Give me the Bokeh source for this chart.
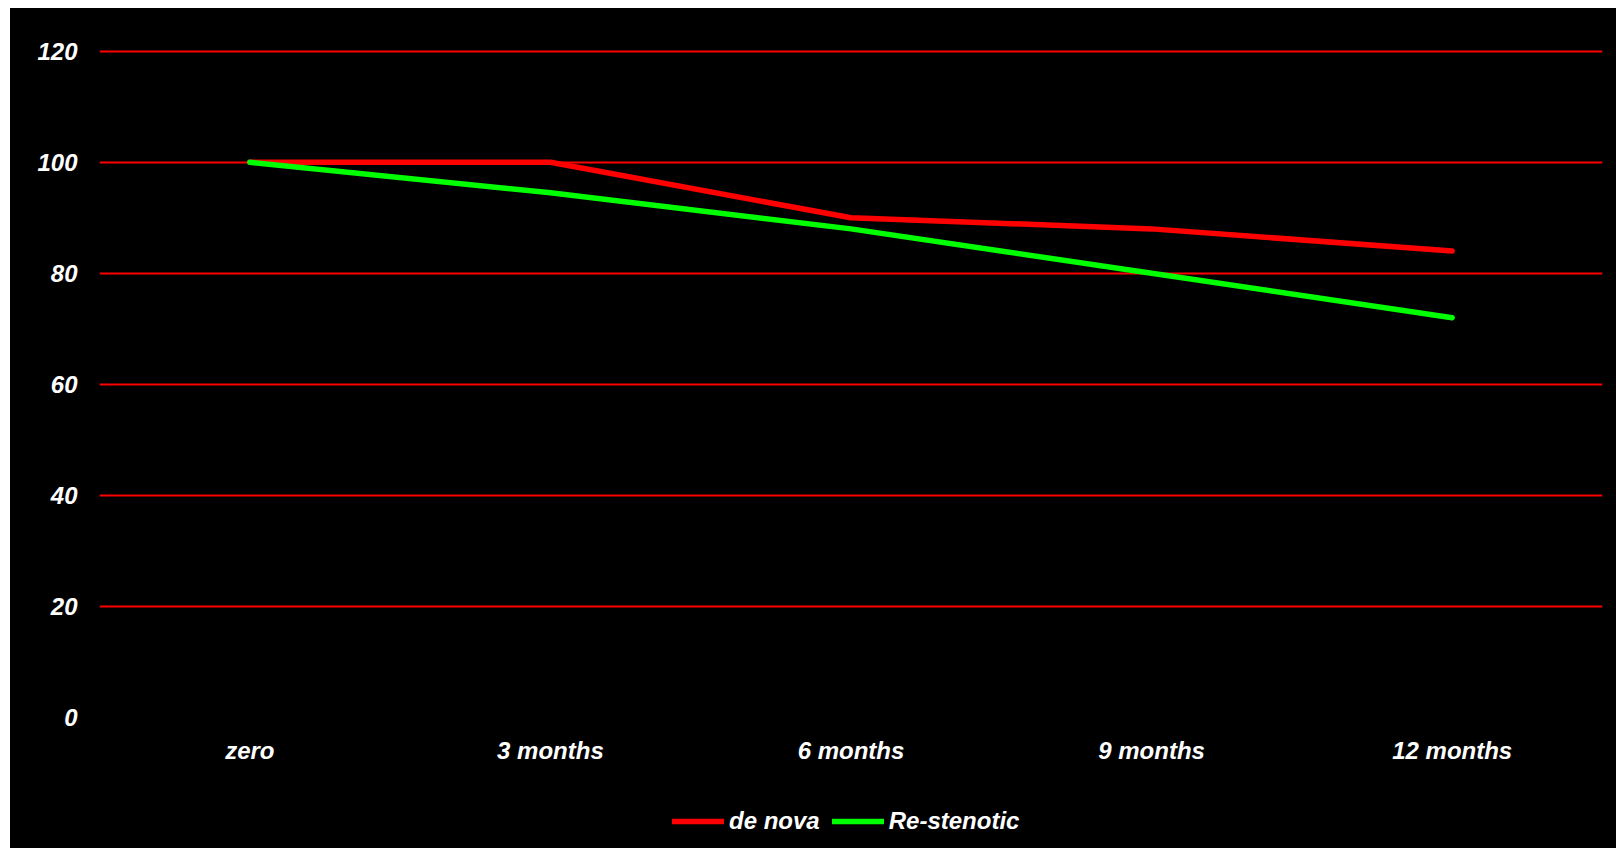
from bokeh.plotting import figure
from bokeh.models import Range1d, FactorRange, Legend, LegendItem, FixedTicker, CategoricalAxis
from bokeh.embed import file_html
from bokeh.resources import INLINE

categories = ["zero", "3 months", "6 months", "9 months", "12 months"]
de_nova = [100, 100, 90, 88, 84]
re_stenotic = [100, 94.5, 88, 80, 72]
y_ticks = [0, 20, 40, 60, 80, 100, 120]
grid_ticks = [20, 40, 60, 80, 100, 120]

FONT = "Liberation Sans"

p = figure(width=1606, height=840,
           x_range=FactorRange(factors=categories, range_padding=0),
           y_range=Range1d(-23.64, 120.5),
           x_axis_location=None,
           output_backend="svg", toolbar_location=None,
           background_fill_color="black", border_fill_color="black",
           min_border_left=89, min_border_right=14, min_border_top=40,
           min_border_bottom=0)
p.margin = (8, 0, 0, 10)
p.styles = {"background-color": "black"}
p.outline_line_color = None

p.xgrid.grid_line_color = None
p.ygrid.ticker = FixedTicker(ticks=grid_ticks)
p.ygrid.grid_line_color = "#FF0000"
p.ygrid.grid_line_width = 2

xaxis = CategoricalAxis(fixed_location=0)
p.add_layout(xaxis, "below")

p.yaxis.ticker = FixedTicker(ticks=y_ticks)
for ax in (xaxis, p.yaxis[0]):
    ax.axis_line_color = None
    ax.major_tick_line_color = None
    ax.minor_tick_line_color = None
    ax.major_tick_out = 0
    ax.major_tick_in = 0
    ax.major_label_text_color = "white"
    ax.major_label_text_font = FONT
    ax.major_label_text_font_style = "bold italic"
    ax.major_label_text_font_size = "24px"
p.yaxis.major_label_standoff = 22
xaxis.major_label_standoff = 20

r1 = p.line(categories, de_nova, line_color="#FF0000", line_width=5.5,
            line_cap="round", line_join="round")
r2 = p.line(categories, re_stenotic, line_color="#00FF00", line_width=5.5,
            line_cap="round", line_join="round")

legend = Legend(items=[LegendItem(label="de nova", renderers=[r1]),
                       LegendItem(label="Re-stenotic", renderers=[r2])],
                orientation="horizontal", location=(573, 13),
                background_fill_alpha=0, border_line_color=None,
                label_text_color="white", label_text_font=FONT,
                label_text_font_style="bold italic", label_text_font_size="24px",
                glyph_width=52, glyph_height=20, label_standoff=5, spacing=12,
                padding=0, margin=0)
p.add_layout(legend, "center")

open("out.html", "w").write(file_html(p, INLINE))
